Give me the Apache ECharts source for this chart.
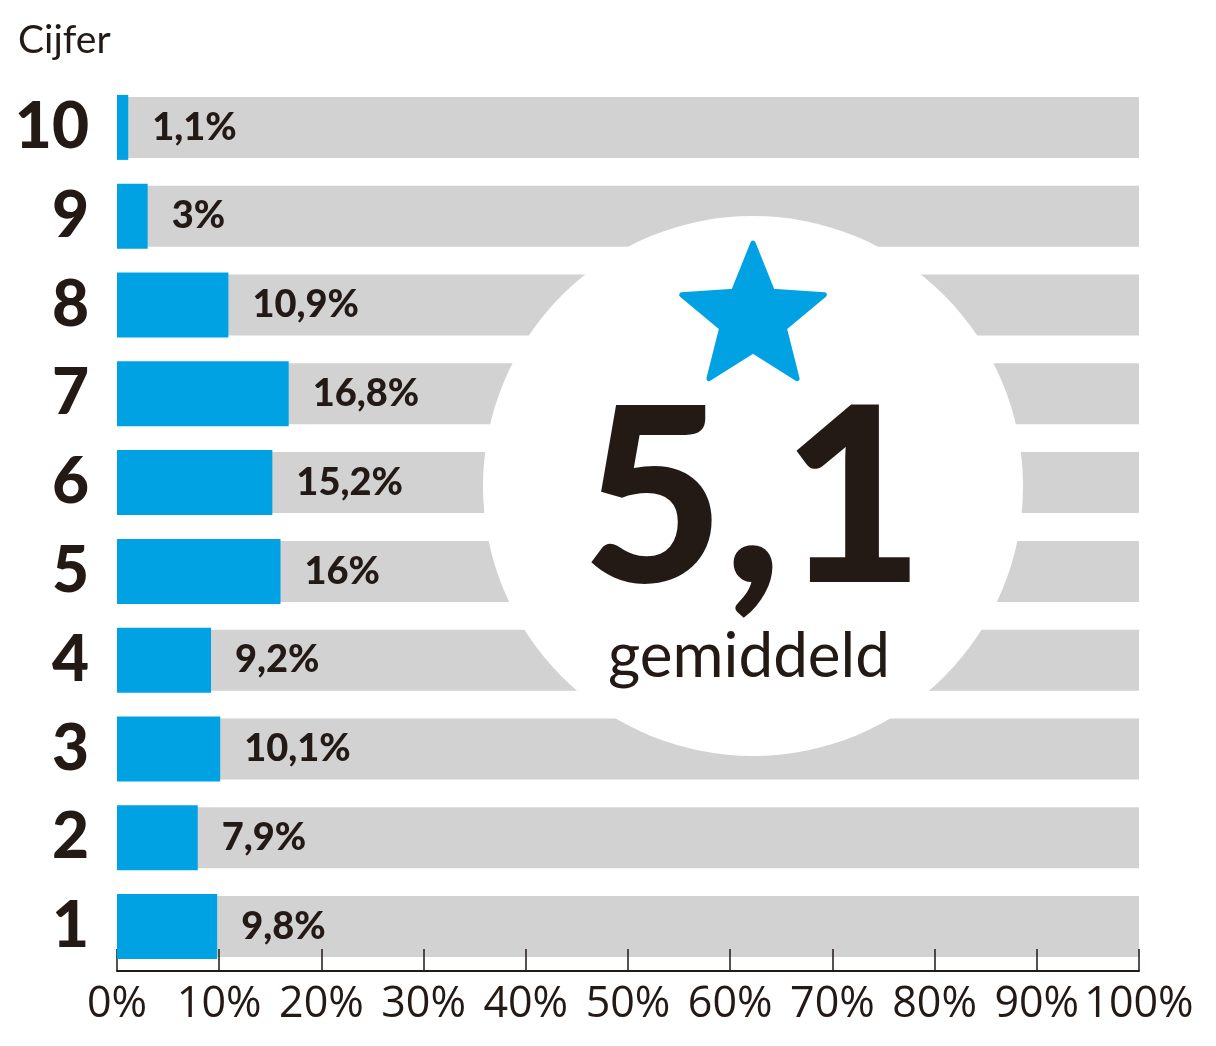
<!DOCTYPE html>
<html>
<head>
<meta charset="utf-8">
<script src="https://cdn.jsdelivr.net/npm/echarts@6/dist/echarts.min.js"></script>
<style>
  html, body { margin: 0; padding: 0; background: #fff; }
  #chart { width: 1216px; height: 1046px; }
</style>
</head>
<body>
<div id="chart"></div>
<script>
// Data
const grades = ['1', '2', '3', '4', '5', '6', '7', '8', '9', '10'];
const shares = [9.8, 7.9, 10.1, 9.2, 16, 15.2, 16.8, 10.9, 3, 1.1];
const scaleMax = 100;
const average = 5.1;
const averageLabel = 'gemiddeld';
const axisTitle = 'Cijfer';

const INK = '#231915';
const BLUE = '#00a2e3';
const GREY = '#d2d2d2';
const BOLD = 'Lato, "Noto Sans", sans-serif';

const fmt = v => String(v).replace('.', ',');

// five-pointed star outline for the badge
function starPoints(cx, cy, r, r0) {
    const pts = [];
    for (let i = 0; i < 10; i++) {
        const rad = i % 2 ? r0 : r;
        const a = -Math.PI / 2 + i * Math.PI / 5;
        pts.push([cx + rad * Math.cos(a), cy + rad * Math.sin(a)]);
    }
    return pts;
}

const chart = echarts.init(document.getElementById('chart'));

const option = {
    animation: false,
    title: {
        text: axisTitle,
        left: 18,
        top: 21,
        padding: 0,
        textStyle: { fontFamily: BOLD, fontSize: 39, fontWeight: 'normal', color: INK }
    },
    grid: { left: 117, right: 77, top: 83, bottom: 75, containLabel: false },
    xAxis: {
        type: 'value',
        min: 0,
        max: scaleMax,
        interval: 10,
        z: 2,
        splitLine: { show: false },
        axisLine: { show: true, lineStyle: { color: INK, width: 2 } },
        axisTick: { show: true, inside: true, length: 22, lineStyle: { color: INK, width: 1.5 } },
        axisLabel: {
            formatter: '{value}%',
            margin: 12,
            fontFamily: '"Open Sans", sans-serif',
            fontSize: 43,
            color: INK
        }
    },
    yAxis: [{
        type: 'category',
        data: grades,
        axisLine: { show: false },
        axisTick: { show: false },
        axisLabel: {
            margin: 28,
            fontFamily: BOLD,
            fontWeight: 900,
            fontSize: 64,
            color: INK
        }
    }, {
        type: 'category',
        data: grades,
        show: false
    }],
    series: [{
        // grey track up to 100%
        type: 'bar',
        yAxisIndex: 1,
        z: 1,
        barWidth: 61,
        silent: true,
        itemStyle: { color: GREY },
        data: grades.map(() => scaleMax)
    }, {
        type: 'bar',
        yAxisIndex: 0,
        z: 3,
        barWidth: 65,
        itemStyle: { color: BLUE },
        label: {
            show: true,
            position: 'right',
            distance: 24,
            formatter: p => fmt(p.value) + '%',
            fontFamily: BOLD,
            fontWeight: 900,
            fontSize: 38,
            color: INK
        },
        data: shares
    }],
    graphic: [{
        type: 'circle',
        z: 50,
        shape: { cx: 753, cy: 486, r: 270 },
        style: { fill: '#fff' }
    }, {
        type: 'polygon',
        z: 51,
        shape: { points: starPoints(753, 318, 75, 33) },
        style: { fill: BLUE, stroke: BLUE, lineWidth: 5, lineJoin: 'round' }
    }, {
        type: 'text',
        z: 51,
        style: {
            text: fmt(average),
            x: 753,
            y: 503,
            align: 'center',
            verticalAlign: 'middle',
            textAlign: 'center',
            textVerticalAlign: 'middle',
            fontFamily: BOLD,
            fontWeight: 900,
            fontSize: 245,
            fill: INK
        }
    }, {
        type: 'text',
        z: 51,
        style: {
            text: averageLabel,
            x: 749,
            y: 657,
            align: 'center',
            verticalAlign: 'middle',
            textAlign: 'center',
            textVerticalAlign: 'middle',
            fontFamily: BOLD,
            fontSize: 62,
            fill: INK
        }
    }]
};

chart.setOption(option);
</script>
</body>
</html>
